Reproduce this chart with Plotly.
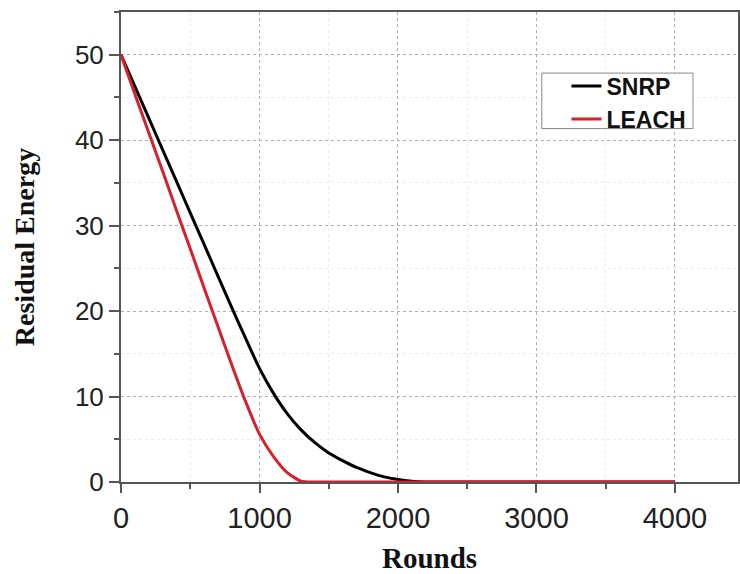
import plotly.graph_objects as go

rounds = [0, 100, 200, 300, 400, 500, 600, 700, 800, 900, 1000, 1100, 1200, 1300,
          1400, 1500, 1600, 1700, 1800, 1900, 2000, 2100, 2200, 2500, 3000, 3500, 4000]
snrp = [50, 46.3, 42.6, 38.9, 35.2, 31.5, 27.8, 24.1, 20.4, 16.8, 13.3, 10.4, 8.0, 6.1,
        4.6, 3.4, 2.5, 1.7, 1.1, 0.6, 0.3, 0.1, 0.0, 0.0, 0.0, 0.0, 0.0]
leach = [50, 45.4, 40.9, 36.4, 31.8, 27.3, 22.7, 18.2, 13.7, 9.4, 5.6, 3.0, 1.1, 0.1,
         0.0, 0.0, 0.0, 0.0, 0.0, 0.0, 0.0, 0.0, 0.0, 0.0, 0.0, 0.0, 0.0]

x_ticks = [0, 1000, 2000, 3000, 4000]
y_ticks = [0, 10, 20, 30, 40, 50]

fig = go.Figure()
fig.add_trace(go.Scatter(x=rounds, y=snrp, name="SNRP", mode="lines",
                         line=dict(color="#000000", width=3, shape="spline", smoothing=0.6),
                         cliponaxis=False))
fig.add_trace(go.Scatter(x=rounds, y=leach, name="LEACH", mode="lines",
                         line=dict(color="#d8202a", width=3, shape="spline", smoothing=0.6),
                         cliponaxis=False))

axis_col = "#555555"
fig.update_layout(
    width=740, height=574,
    margin=dict(l=121, r=0, t=12, b=91),
    paper_bgcolor="white", plot_bgcolor="white",
    showlegend=True,
    legend=dict(x=0.722, y=0.888, xanchor="left", yanchor="top",
                bgcolor="rgba(0,0,0,0)", borderwidth=0,
                font=dict(family="Liberation Sans, Arial", size=23, color="#111111", weight="bold"),
                tracegroupgap=0),
    shapes=[dict(type="rect", xref="paper", yref="paper",
                 x0=0.682, x1=0.927, y0=0.752, y1=0.870,
                 line=dict(color="#888888", width=1), fillcolor="white", layer="above")],
    xaxis=dict(
        range=[0, 4455], tickvals=x_ticks, ticktext=[str(v) for v in x_ticks],
        ticks="outside", ticklen=9, tickwidth=2, tickcolor=axis_col,
        minor=dict(dtick=500, tick0=0, ticks="outside", ticklen=5, tickwidth=2,
                   tickcolor=axis_col, showgrid=True, gridcolor="#ececec", gridwidth=1),
        showline=True, linecolor=axis_col, linewidth=2, mirror=True,
        showgrid=True, gridcolor="#b0b0b0", griddash="dot", gridwidth=1,
        zeroline=False,
        tickfont=dict(family="Liberation Sans, Arial", size=29, color="#222222"),
        title=dict(text="<b>Rounds</b>", standoff=20,
                   font=dict(family="Liberation Serif, Times New Roman", size=29, color="#111111")),
    ),
    yaxis=dict(
        range=[0, 55], tickvals=y_ticks, ticktext=[str(v) for v in y_ticks],
        ticks="outside", ticklen=10, tickwidth=2, tickcolor=axis_col,
        minor=dict(dtick=5, tick0=0, ticks="outside", ticklen=5, tickwidth=2,
                   tickcolor=axis_col, showgrid=True, gridcolor="#ececec", gridwidth=1),
        showline=True, linecolor=axis_col, linewidth=2, mirror=True,
        showgrid=True, gridcolor="#b0b0b0", griddash="dot", gridwidth=1,
        zeroline=False,
        tickfont=dict(family="Liberation Sans, Arial", size=26, color="#222222"),
        title=dict(text="<b>Residual Energy</b>", standoff=32,
                   font=dict(family="Liberation Serif, Times New Roman", size=28, color="#111111")),
    ),
)

fig.write_html("out.html")
